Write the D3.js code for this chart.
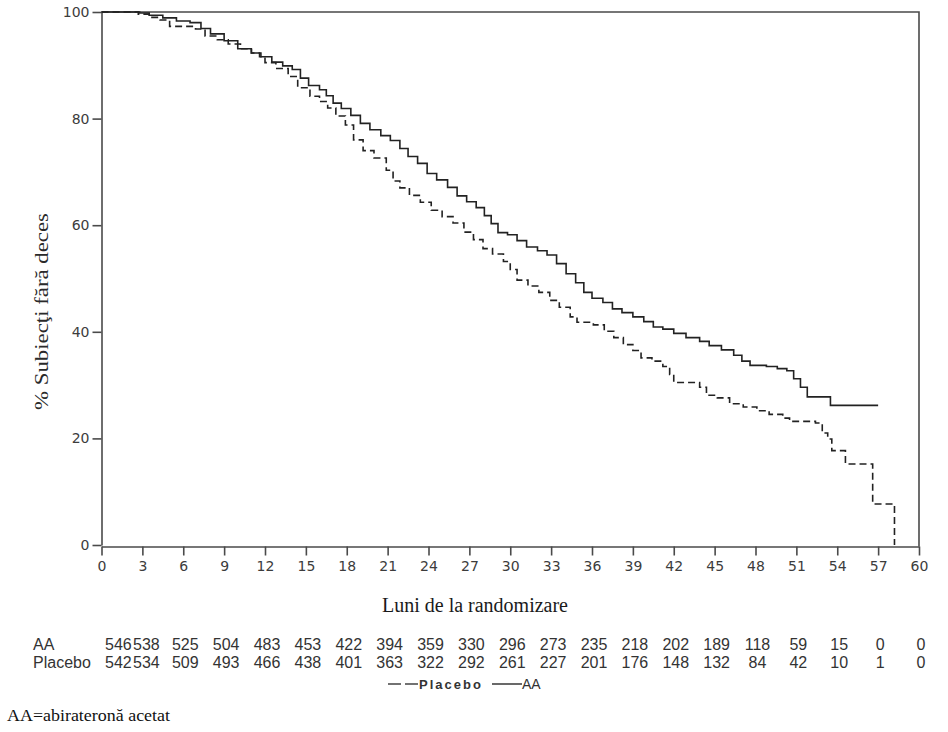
<!DOCTYPE html>
<html>
<head>
<meta charset="utf-8">
<script src="https://cdn.jsdelivr.net/npm/d3@7"></script>
<style>
  body { margin: 0; background: #fff; }
  .tick text { font-family: "DejaVu Sans", sans-serif; font-size: 14px; fill: #3c3c3c; }
  .tick line, .domain { stroke: #4a4a4a; stroke-width: 1.6; }
</style>
</head>
<body>
<div id="container"></div>
<script>
// Kaplan-Meier curves (months, % alive)
const aaMonths = [0, 2.8, 3.5, 4.5, 5.5, 6.5, 7.3, 8.0, 9.0, 10.0, 11.0, 11.7, 12.5, 13.3, 14.0, 14.6, 15.2, 16.0, 16.5, 17.0, 17.6, 18.3, 19.0, 19.7, 20.5, 21.2, 21.9, 22.5, 23.2, 23.9, 24.6, 25.4, 26.1, 26.8, 27.5, 28.1, 28.6, 29.1, 29.8, 30.5, 31.2, 32.0, 32.7, 33.4, 34.1, 34.8, 35.4, 36.0, 36.8, 37.5, 38.2, 39.0, 39.8, 40.5, 41.2, 42.0, 42.9, 43.9, 44.6, 45.5, 46.4, 47.0, 47.6, 48.8, 49.6, 50.3, 50.8, 51.3, 51.8, 53.5, 57.0]
const aaSurv = [100, 99.8, 99.4, 98.9, 98.3, 98.0, 96.9, 95.9, 94.6, 93.1, 92.3, 91.6, 90.6, 89.9, 89.2, 87.6, 86.2, 85.4, 84.3, 82.9, 81.9, 80.6, 79.1, 77.9, 76.8, 75.9, 74.4, 72.9, 71.6, 69.7, 68.5, 67.1, 65.5, 64.4, 63.3, 61.8, 60.3, 58.6, 58.2, 57.1, 55.9, 55.2, 54.4, 52.8, 50.9, 49.2, 47.4, 46.3, 45.5, 44.3, 43.6, 42.8, 41.9, 40.9, 40.5, 39.7, 38.9, 38.2, 37.4, 36.6, 35.6, 34.5, 33.7, 33.5, 33.1, 32.7, 31.2, 29.6, 27.8, 26.2, 26.2]

const placeboMonths = [0, 2.7, 3.5, 4.3, 5.0, 6.9, 7.6, 8.5, 9.3, 10.2, 11.0, 11.6, 12.0, 12.8, 13.7, 14.4, 15.3, 16.0, 16.6, 17.2, 17.9, 18.5, 19.2, 20.0, 20.9, 21.4, 21.9, 22.6, 23.4, 24.2, 25.0, 25.8, 26.6, 27.3, 28.0, 28.7, 29.5, 30.0, 30.5, 31.3, 32.1, 32.9, 33.6, 34.4, 34.9, 36.1, 36.9, 37.6, 38.3, 39.0, 39.6, 40.4, 41.2, 41.7, 42.0, 43.9, 44.4, 45.2, 46.1, 47.1, 48.1, 49.0, 50.0, 50.5, 52.4, 52.9, 53.3, 53.6, 54.6, 56.6, 58.2]
const placeboSurv = [100, 99.6, 99.0, 98.5, 97.3, 96.8, 95.5, 94.8, 94.0, 93.1, 92.3, 91.6, 90.5, 89.4, 87.9, 85.8, 84.2, 83.2, 82.0, 80.5, 78.8, 76.0, 74.0, 72.6, 70.3, 68.3, 67.0, 65.6, 64.3, 62.8, 61.6, 60.4, 58.7, 57.3, 55.6, 54.6, 53.2, 51.7, 49.7, 48.6, 47.4, 45.9, 44.6, 42.8, 41.8, 41.3, 40.1, 38.9, 37.6, 36.5, 35.1, 34.5, 33.5, 32.0, 30.5, 29.6, 28.1, 27.6, 26.5, 25.9, 25.2, 24.5, 23.8, 23.2, 22.9, 21.0, 19.9, 17.7, 15.2, 7.7, 0]

const xTicks = d3.range(0, 61, 3)
const yTicks = [0, 20, 40, 60, 80, 100]

// numbers at risk
const riskLabels = ["AA", "Placebo"]
const aaRisk = [546, 538, 525, 504, 483, 453, 422, 394, 359, 330, 296, 273, 235, 218, 202, 189, 118, 59, 15, 0, 0]
const placeboRisk = [542, 534, 509, 493, 466, 438, 401, 363, 322, 292, 261, 227, 201, 176, 148, 132, 84, 42, 10, 1, 0]

const w = 948
const h = 732

const x = d3.scaleLinear().domain([0, 60]).range([101.5, 919])
const y = d3.scaleLinear().domain([0, 100]).range([545, 12])

const svg = d3.select("#container")
    .append("svg")
    .attr("width", w)
    .attr("height", h)

// frame (top + right)
svg.append("path")
    .attr("d", `M${x(0)},${y(100)}H${x(60)}V${y(0) + 1.5}`)
    .attr("fill", "none")
    .attr("stroke", "#4a4a4a")
    .attr("stroke-width", 1.6)

const yAxis = d3.axisLeft(y).tickValues(yTicks).tickSize(9).tickSizeOuter(0).tickPadding(3)
svg.append("g")
    .attr("transform", `translate(${x(0)},0)`)
    .call(yAxis)

const xAxis = d3.axisBottom(x).tickValues(xTicks).tickSize(9).tickSizeOuter(0).tickPadding(6)
svg.append("g")
    .attr("transform", `translate(0,${y(0) + 1.5})`)
    .call(xAxis)

const line = d3.line()
    .x(d => x(d[0]))
    .y(d => y(d[1]))
    .curve(d3.curveStepAfter)

svg.append("path")
    .datum(d3.zip(placeboMonths, placeboSurv))
    .attr("d", line)
    .attr("fill", "none")
    .attr("stroke", "#222")
    .attr("stroke-width", 1.6)
    .attr("stroke-dasharray", "7,4")

svg.append("path")
    .datum(d3.zip(aaMonths, aaSurv))
    .attr("d", line)
    .attr("fill", "none")
    .attr("stroke", "#222")
    .attr("stroke-width", 1.6)

// axis titles
svg.append("text")
    .attr("transform", `translate(48,${(y(0) + y(100)) / 2 + 33}) rotate(-90)`)
    .attr("text-anchor", "middle")
    .attr("font-family", "'Liberation Serif', 'Times New Roman', serif")
    .attr("font-size", 19)
    .attr("textLength", 197)
    .attr("lengthAdjust", "spacingAndGlyphs")
    .attr("fill", "#2a2a2a")
    .text("% Subiecţi fără deces")

svg.append("text")
    .attr("x", 475)
    .attr("y", 612)
    .attr("text-anchor", "middle")
    .attr("font-family", "'Liberation Serif', 'Times New Roman', serif")
    .attr("font-size", 20)
    .attr("textLength", 186)
    .attr("lengthAdjust", "spacingAndGlyphs")
    .attr("fill", "#1a1a1a")
    .text("Luni de la randomizare")

// risk table
const table = svg.append("g")
    .attr("font-family", "'Liberation Sans', Arial, sans-serif")
    .attr("font-size", 16)
    .attr("fill", "#333")

;[aaRisk, placeboRisk].forEach((row, r) => {
    const yy = 650 + r * 18
    table.append("text").attr("x", 33).attr("y", yy).text(riskLabels[r])
    table.selectAll(null)
        .data(row)
        .enter()
        .append("text")
        .attr("x", (d, i) => i === 0 ? x(0) + 3.5 : x(xTicks[i]) + (i === 1 ? 4 : 2))
        .attr("y", yy)
        .attr("text-anchor", (d, i) => i === 0 ? "start" : "middle")
        .text(d => d)
})

// legend
const lg = svg.append("g").attr("transform", "translate(0,684)")
lg.append("line").attr("x1", 388).attr("x2", 419).attr("stroke", "#444").attr("stroke-width", 1.6).attr("stroke-dasharray", "13,4")
lg.append("text").attr("x", 419).attr("y", 5).attr("font-family", "'Liberation Sans', Arial, sans-serif")
    .attr("font-size", 13).attr("font-weight", "bold").attr("letter-spacing", 2).attr("fill", "#333").text("Placebo")
lg.append("line").attr("x1", 492).attr("x2", 522).attr("stroke", "#444").attr("stroke-width", 1.6)
lg.append("text").attr("x", 522).attr("y", 5).attr("font-family", "'Liberation Sans', Arial, sans-serif")
    .attr("font-size", 14).attr("fill", "#333").text("AA")

svg.append("text")
    .attr("x", 7)
    .attr("y", 721)
    .attr("font-family", "'Liberation Serif', 'Times New Roman', serif")
    .attr("font-size", 17)
    .attr("textLength", 163)
    .attr("lengthAdjust", "spacingAndGlyphs")
    .attr("fill", "#111")
    .text("AA=abirateronă acetat")
</script>
</body>
</html>
